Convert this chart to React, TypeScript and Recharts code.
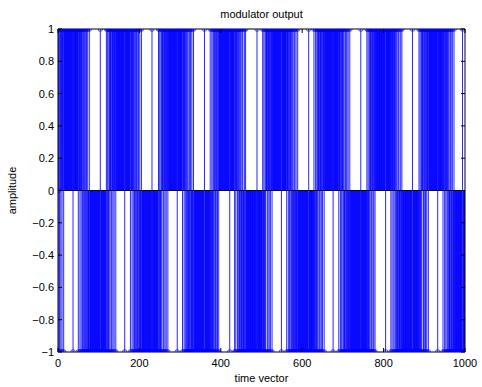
import React from 'react';
import { ComposedChart, Bar, Line, XAxis, YAxis, ReferenceLine } from 'recharts';

// '+' = 1, '-' = -1, '0' = 0 ; spaces only group characters for counting.
const PERIOD_STARTS = [0, 128, 256, 384, 512, 640, 768, 896];
const PERIOD_SAMPLES: string[] = [
  '0+-+-++-++-+++-' + '+++++ +++++ +++++ +++++ ++ - +++++ +++++ ++' + '-+++-++-++- +-+-+--+-+ --+---+---' + '----- ----- ----- ----- --- + ----- ------' + '---+--+--+-+',
  '++-+-++-++-+++-' + '+++++ +++++ +++++ +++++ + - +++++ +++++ +++' + '-+++-++-++- +-+-+--+-+ --+---+---' + '----- ----- ----- ----- -- + ----- -------' + '---+--+--+-+',
  '++-+-++-++-+++-' + '+++++ +++++ +++++ +++++ ++ - +++++ +++++ ++' + '-+++-++-++- +-+--+-+-+ --+---+---' + '----- ----- ----- ----- --- + ----- ------' + '--+---+--+-+',
  '+-+-++-+-++-+++' + '+++++ +++++ +++++ +++++ +++ - +++++ ++++++' + '-++-+++-++- +-+-+--+-+ ---+--+---' + '----- ----- ----- ----- ---- + ----- -----' + '---+--+--+-+',
  '++-+-++-++-+++-' + '+++++ +++++ +++++ +++++ ++ - +++++ +++++ ++' + '-+++-++-++- +-+-+--+-+ --+---+---' + '----- ----- ----- ----- --- + ----- ------' + '-+---+--+-+-',
  '++-+-++-++-+++-' + '+++++ +++++ +++++ +++++ + - +++++ +++++ +++' + '-+++-++-++- +-+--+-+-+ --+---+---' + '----- ----- ----- ----- --- + ----- ------' + '---+--+--+-+',
  '+-+-++-+-++-+++' + '+++++ +++++ +++++ +++++ ++ - +++++ +++++ ++' + '-++-+++-++- +-+-+--+-+ ---+--+---' + '----- ----- ----- ----- -- + ----- -------' + '---+--+--+-+',
  '++-+-++-++-+++-' + '+++++ +++++ +++++ +++++ ++ - +++++ +++++ ++' + '-+++-++-++- +-+-+--+-+ --+---+---' + '----- ----- ----- -- + -----',
];

const X_TICKS = [0, 200, 400, 600, 800, 1000];
const Y_TICKS = [-1, -0.8, -0.6, -0.4, -0.2, 0, 0.2, 0.4, 0.6, 0.8, 1];
const TITLE = 'modulator output';
const X_LABEL = 'time vector';
const Y_LABEL = 'amplitude';

const data: { x: number; y: number }[] = [];
PERIOD_SAMPLES.forEach((s, p) => {
  const chars = s.replace(/\s/g, '').split('');
  chars.forEach((c, i) => {
    const v = c === '+' ? 1 : c === '-' ? -1 : 0;
    data.push({ x: PERIOD_STARTS[p] + i, y: v });
  });
});

const W = 482;
const H = 387;
const PT = 29;
const PB = 352;
const PL = 58;
const PR = 465;
const FONT = '"Liberation Sans", Arial, Helvetica, sans-serif';
const BLUE = '#0000ff';

const fmt = (v: number) => {
  const r = Math.round(v * 10) / 10;
  const s = String(Math.abs(r));
  return r < 0 ? '\u2212' + s : s;
};

const XTick = (props: any) => {
  const { x, payload } = props;
  return (
    <g>
      <line x1={x} x2={x} y1={PB} y2={PB - 4} stroke="#000" strokeWidth={1} />
      <line x1={x} x2={x} y1={PT} y2={PT + 4} stroke="#000" strokeWidth={1} />
      <text x={x} y={PB + 15} textAnchor="middle" fontFamily={FONT} fontSize={11} fill="#000">
        {fmt(payload.value)}
      </text>
    </g>
  );
};

const YTick = (props: any) => {
  const { y, payload } = props;
  return (
    <g>
      <line x1={PL} x2={PL + 4} y1={y} y2={y} stroke="#000" strokeWidth={1} />
      <line x1={PR} x2={PR - 4} y1={y} y2={y} stroke="#000" strokeWidth={1} />
      <text x={PL - 4} y={y + 4} textAnchor="end" fontFamily={FONT} fontSize={11} fill="#000">
        {fmt(payload.value)}
      </text>
    </g>
  );
};

const Stem = (props: any) => {
  const { x, width, y, height } = props;
  if (x == null || y == null) return null;
  const cx = x + width / 2;
  return <line x1={cx} x2={cx} y1={y} y2={y + height} stroke={BLUE} strokeWidth={0.85} />;
};

const Marker = (props: any) => {
  const { cx, cy, index } = props;
  if (cx == null || cy == null) return null;
  return <circle key={index} cx={cx} cy={cy} r={2.3} fill="none" stroke={BLUE} strokeWidth={0.7} />;
};

export default function App() {
  return (
    <div style={{ position: 'absolute', left: 0, top: 0, width: W, height: H, background: '#fff' }}>
      <ComposedChart
        width={W}
        height={H}
        data={data}
        margin={{ top: PT, right: W - PR, bottom: 0, left: 0 }}
        barCategoryGap={0}
      >
        <XAxis
          dataKey="x"
          type="number"
          domain={[0, 1000]}
          ticks={X_TICKS}
          interval={0}
          height={H - PB}
          tickLine={false}
          tick={<XTick />}
          axisLine={{ stroke: '#000' }}
          allowDataOverflow
        />
        <YAxis
          type="number"
          domain={[-1, 1]}
          ticks={Y_TICKS}
          interval={0}
          width={PL}
          tickLine={false}
          tick={<YTick />}
          axisLine={{ stroke: '#000' }}
          allowDataOverflow
        />
        <Bar dataKey="y" barSize={1} shape={<Stem />} isAnimationActive={false} />
        <Line
          dataKey="y"
          stroke="none"
          dot={<Marker />}
          activeDot={false}
          isAnimationActive={false}
        />
        <ReferenceLine y={0} stroke="#000" strokeWidth={1} />
        <ReferenceLine y={1} stroke="#000" strokeWidth={1} />
        <ReferenceLine x={1000} stroke="#000" strokeWidth={1} />
      </ComposedChart>
      <svg width={W} height={H} style={{ position: 'absolute', left: 0, top: 0, pointerEvents: 'none' }}>
        <text x={(PL + PR) / 2} y={18} textAnchor="middle" fontFamily={FONT} fontSize={11} fill="#000">
          {TITLE}
        </text>
        <text x={(PL + PR) / 2} y={382} textAnchor="middle" fontFamily={FONT} fontSize={11} fill="#000">
          {X_LABEL}
        </text>
        <text
          x={0}
          y={0}
          transform={`translate(16, ${(PT + PB) / 2}) rotate(-90)`}
          textAnchor="middle"
          fontFamily={FONT}
          fontSize={11}
          fill="#000"
        >
          {Y_LABEL}
        </text>
      </svg>
    </div>
  );
}
